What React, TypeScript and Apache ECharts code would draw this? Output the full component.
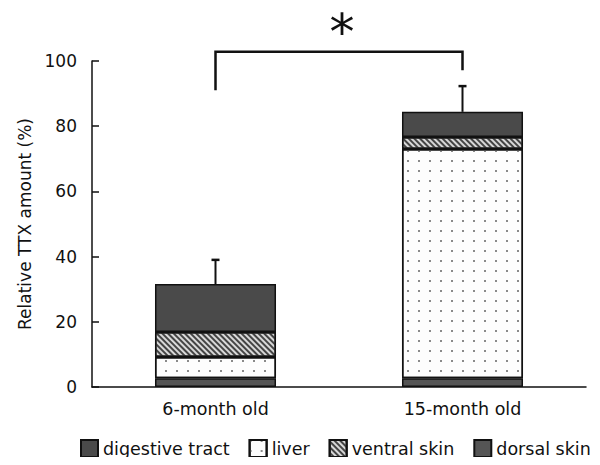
import React, { useEffect, useRef } from "react";
import * as echarts from "echarts";

const categories = ["6-month old", "15-month old"];
const dorsalSkin = [2.7, 2.7];
const liver = [6.5, 70.3];
const ventralSkin = [7.7, 3.7];
const digestiveTract = [14.7, 7.7];
const errorTop = [39, 92.3];
const yTicks = { min: 0, max: 100, interval: 20 };
const bracket = { y: 102.8, leftBottom: 91, rightBottom: 97.2, starY: 108.8 };

const FONT = "DejaVu Sans";

export default function App() {
  const ref = useRef<HTMLDivElement>(null);
  useEffect(() => {
    if (!ref.current) return;
    const chart = echarts.init(ref.current, undefined, { renderer: "svg" });
    const totals = categories.map(
      (_, i) => dorsalSkin[i] + liver[i] + ventralSkin[i] + digestiveTract[i]
    );
    const border = { borderColor: "#111", borderWidth: 1.5 };
    chart.setOption({
      animation: false,
      textStyle: { fontFamily: FONT },
      grid: { left: 92, right: 14, top: 61, bottom: 78 },
      legend: {
        top: 439,
        left: 80,
        width: 520,
        padding: 0,
        icon: "rect",
        itemWidth: 17,
        itemHeight: 17,
        itemGap: 19,
        textStyle: { fontFamily: FONT, fontSize: 17.5, color: "#111" },
        data: ["digestive tract", "liver", "ventral skin", "dorsal skin"],
      },
      xAxis: {
        type: "category",
        data: categories,
        axisLine: { lineStyle: { color: "#111", width: 1.5 } },
        axisTick: { show: false },
        axisLabel: { fontFamily: FONT, fontSize: 17.5, color: "#111", margin: 13 },
      },
      yAxis: {
        type: "value",
        min: yTicks.min,
        max: yTicks.max,
        interval: yTicks.interval,
        name: "Relative TTX amount (%)",
        nameLocation: "middle",
        nameGap: 59,
        nameTextStyle: { fontFamily: FONT, fontSize: 17, color: "#111" },
        splitLine: { show: false },
        axisLine: { show: true, lineStyle: { color: "#111", width: 1.5 } },
        axisTick: { show: true, inside: true, length: 7, lineStyle: { color: "#111", width: 1.5 } },
        axisLabel: { fontFamily: FONT, fontSize: 17, color: "#111", margin: 15 },
      },
      series: [
        {
          name: "dorsal skin",
          type: "bar",
          stack: "ttx",
          barWidth: "49%",
          data: dorsalSkin,
          itemStyle: { color: "#555", ...border },
        },
        {
          name: "liver",
          type: "bar",
          stack: "ttx",
          data: liver,
          itemStyle: {
            color: "#fdfdfd",
            ...border,
            decal: {
              symbol: "rect",
              symbolSize: 1,
              color: "#8a8a8a",
              dashArrayX: [1.5, 9],
              dashArrayY: [1.5, 8],
              rotation: 0,
            },
          },
        },
        {
          name: "ventral skin",
          type: "bar",
          stack: "ttx",
          data: ventralSkin,
          itemStyle: {
            color: "#d8d8d8",
            ...border,
            decal: {
              symbol: "rect",
              symbolSize: 1,
              color: "#444",
              dashArrayX: [1, 0],
              dashArrayY: [1.2, 1.8],
              rotation: Math.PI / 4,
            },
          },
        },
        {
          name: "digestive tract",
          type: "bar",
          stack: "ttx",
          data: digestiveTract,
          itemStyle: { color: "#4a4a4a", ...border },
        },
        {
          type: "custom",
          name: "error",
          data: categories.map((c, i) => [i, totals[i], errorTop[i]]),
          clip: false,
          z: 5,
          renderItem: (params: any, api: any) => {
            const x = api.value(0);
            const p0 = api.coord([x, api.value(1)]);
            const p1 = api.coord([x, api.value(2)]);
            const hw = 4;
            return {
              type: "group",
              children: [
                { type: "line", shape: { x1: p0[0], y1: p0[1], x2: p1[0], y2: p1[1] }, style: { stroke: "#111", lineWidth: 2 } },
                { type: "line", shape: { x1: p1[0] - hw, y1: p1[1], x2: p1[0] + hw, y2: p1[1] }, style: { stroke: "#111", lineWidth: 2.5 } },
              ],
            };
          },
        },
        {
          type: "custom",
          name: "bracket",
          data: [[0, 1]],
          clip: false,
          z: 5,
          renderItem: (params: any, api: any) => {
            const a = api.coord([0, bracket.y]);
            const aB = api.coord([0, bracket.leftBottom]);
            const b = api.coord([1, bracket.y]);
            const bB = api.coord([1, bracket.rightBottom]);
            const s = api.coord([0, bracket.starY]);
            return {
              type: "group",
              children: [
                {
                  type: "polyline",
                  shape: { points: [[aB[0], aB[1]], [a[0], a[1]], [b[0], b[1]], [bB[0], bB[1]]] },
                  style: { stroke: "#111", lineWidth: 2.5, fill: "none" },
                },
                {
                  type: "text",
                  x: (a[0] + b[0]) / 2 + 3,
                  y: s[1],
                  style: {
                    text: "*",
                    fontFamily: FONT,
                    fontSize: 50,
                    fill: "#111",
                    align: "center",
                    verticalAlign: "middle",
                  },
                },
              ],
            };
          },
        },
      ],
    });
    return () => chart.dispose();
  }, []);
  return <div ref={ref} style={{ width: 600, height: 465, margin: -8 }} />;
}
